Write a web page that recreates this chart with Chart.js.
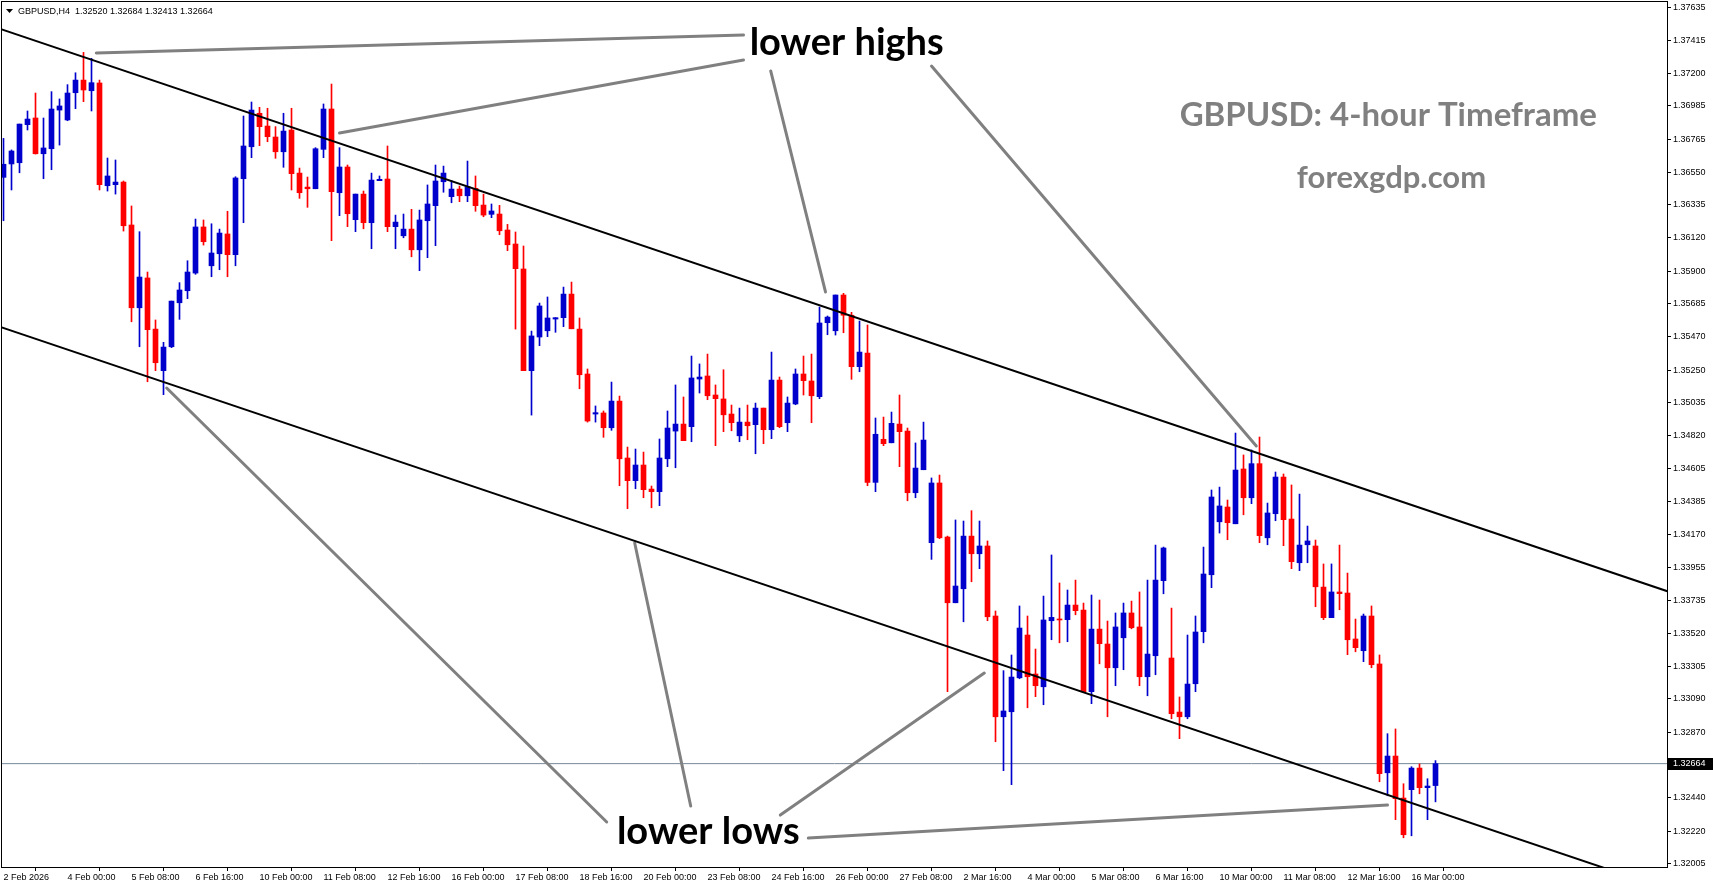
<!DOCTYPE html>
<html>
<head>
<meta charset="utf-8">
<script src="https://cdn.jsdelivr.net/npm/chart.js@4.4.1/dist/chart.umd.min.js"></script>
<style>
html, body { margin: 0; padding: 0; background: #fff; }
</style>
</head>
<body>
<canvas id="myChart" width="1713" height="888"></canvas>
<script>
// GBPUSD H4 candles, 2 Feb 2026 16:00 .. 16 Mar 2026 12:00 (one entry per bar)
var symbol = 'GBPUSD';
var period = 'H4';

var opens = [
    1.36516, 1.36604, 1.36612, 1.36862, 1.36906, 1.36671, 1.36704, 1.36958, 1.36893, 1.37072,
    1.37155, 1.37085, 1.37136, 1.36461, 1.36468, 1.36485, 1.36203, 1.35659, 1.35855, 1.35519,
    1.35246, 1.35403, 1.35692, 1.35771, 1.35887, 1.36190, 1.35935, 1.36014, 1.36144, 1.36008,
    1.36507, 1.36717, 1.36937, 1.36853, 1.36781, 1.36684, 1.36827, 1.36544, 1.36452, 1.36441,
    1.36700, 1.36965, 1.36415, 1.36584, 1.36238, 1.36406, 1.36218, 1.36494, 1.36505, 1.36192,
    1.36132, 1.36176, 1.36040, 1.36231, 1.36330, 1.36487, 1.36389, 1.36439, 1.36395, 1.36444,
    1.36334, 1.36273, 1.36275, 1.36170, 1.36078, 1.35914, 1.35246, 1.35467, 1.35508, 1.35585,
    1.35594, 1.35749, 1.35519, 1.35224, 1.34961, 1.34968, 1.34871, 1.35046, 1.34672, 1.34523,
    1.34626, 1.34468, 1.34451, 1.34667, 1.34849, 1.34895, 1.34878, 1.35191, 1.35211, 1.35086,
    1.35060, 1.34961, 1.34818, 1.34908, 1.34891, 1.35000, 1.34858, 1.35184, 1.34904, 1.35027,
    1.35224, 1.35178, 1.35075, 1.35561, 1.35508, 1.35743, 1.35610, 1.35272, 1.35362, 1.34512,
    1.34795, 1.34772, 1.34895, 1.34849, 1.34444, 1.34595, 1.34116, 1.34508, 1.34153, 1.33721,
    1.33813, 1.34159, 1.34043, 1.34094, 1.33634, 1.32972, 1.33005, 1.33228, 1.33509, 1.33253,
    1.33169, 1.33603, 1.33614, 1.33610, 1.33706, 1.33673, 1.33137, 1.33548, 1.33450, 1.33294,
    1.33491, 1.33654, 1.33562, 1.33235, 1.33373, 1.33866, 1.33358, 1.33003, 1.32972, 1.33189,
    1.33531, 1.33905, 1.34253, 1.34350, 1.34240, 1.34600, 1.34411, 1.34635, 1.34148, 1.34306,
    1.34547, 1.34271, 1.33984, 1.34102, 1.34094, 1.33824, 1.33623, 1.33792, 1.33785, 1.33483,
    1.33406, 1.33634, 1.33319, 1.32604, 1.32714, 1.32438, 1.32493, 1.32635, 1.32506, 1.32520
];
var highs = [
    1.36772, 1.36696, 1.36866, 1.36952, 1.37070, 1.36906, 1.37079, 1.37031, 1.37125, 1.37203,
    1.37337, 1.37298, 1.37155, 1.36643, 1.36630, 1.36492, 1.36328, 1.36159, 1.35894, 1.35579,
    1.35432, 1.35703, 1.35824, 1.35968, 1.36242, 1.36236, 1.36211, 1.36176, 1.36293, 1.36520,
    1.36919, 1.37011, 1.36976, 1.36970, 1.36849, 1.36937, 1.36970, 1.36577, 1.36518, 1.36711,
    1.36998, 1.37129, 1.36711, 1.36597, 1.36406, 1.36426, 1.36544, 1.36525, 1.36722, 1.36268,
    1.36275, 1.36306, 1.36301, 1.36466, 1.36597, 1.36590, 1.36494, 1.36459, 1.36623, 1.36525,
    1.36406, 1.36341, 1.36332, 1.36207, 1.36157, 1.36065, 1.35506, 1.35690, 1.35730, 1.35594,
    1.35795, 1.35828, 1.35592, 1.35257, 1.35014, 1.34981, 1.35171, 1.35079, 1.34744, 1.34731,
    1.34711, 1.34488, 1.34797, 1.34981, 1.35152, 1.35073, 1.35342, 1.35290, 1.35355, 1.35152,
    1.35252, 1.35020, 1.35000, 1.35020, 1.35033, 1.35000, 1.35368, 1.35204, 1.35073, 1.35257,
    1.35342, 1.35355, 1.35664, 1.35605, 1.35743, 1.35754, 1.35629, 1.35572, 1.35546, 1.34935,
    1.34941, 1.34974, 1.35086, 1.34869, 1.34771, 1.34908, 1.34541, 1.34560, 1.34159, 1.34265,
    1.34258, 1.34326, 1.34258, 1.34127, 1.33667, 1.33275, 1.33378, 1.33700, 1.33634, 1.33417,
    1.33765, 1.34035, 1.33851, 1.33805, 1.33870, 1.33719, 1.33772, 1.33739, 1.33601, 1.33654,
    1.33719, 1.33732, 1.33792, 1.33870, 1.34100, 1.34087, 1.33686, 1.33102, 1.33509, 1.33634,
    1.34087, 1.34462, 1.34481, 1.34396, 1.34836, 1.34692, 1.34725, 1.34810, 1.34376, 1.34580,
    1.34567, 1.34495, 1.34435, 1.34225, 1.34133, 1.33976, 1.33976, 1.34100, 1.33916, 1.33614,
    1.33647, 1.33700, 1.33378, 1.32861, 1.32892, 1.32532, 1.32644, 1.32662, 1.32565, 1.32684
];
var lows = [
    1.36231, 1.36433, 1.36546, 1.36827, 1.36669, 1.36507, 1.36566, 1.36728, 1.36888, 1.36967,
    1.37013, 1.36952, 1.36433, 1.36426, 1.36406, 1.36163, 1.35567, 1.35403, 1.35173, 1.35246,
    1.35088, 1.35397, 1.35583, 1.35719, 1.35879, 1.36071, 1.35863, 1.35909, 1.35863, 1.35935,
    1.36218, 1.36645, 1.36724, 1.36750, 1.36641, 1.36582, 1.36433, 1.36378, 1.36319, 1.36441,
    1.36645, 1.36100, 1.36264, 1.36192, 1.36159, 1.36178, 1.36047, 1.36494, 1.36159, 1.36047,
    1.36119, 1.35994, 1.35903, 1.35988, 1.36067, 1.36418, 1.36349, 1.36356, 1.36356, 1.36293,
    1.36257, 1.36251, 1.36139, 1.36034, 1.35519, 1.35246, 1.34954, 1.35410, 1.35469, 1.35498,
    1.35535, 1.35521, 1.35127, 1.34908, 1.34908, 1.34808, 1.34854, 1.34490, 1.34339, 1.34470,
    1.34411, 1.34345, 1.34359, 1.34615, 1.34608, 1.34786, 1.34779, 1.35099, 1.35055, 1.34753,
    1.34845, 1.34851, 1.34779, 1.34792, 1.34700, 1.34766, 1.34799, 1.34871, 1.34845, 1.35022,
    1.35086, 1.34904, 1.35062, 1.35482, 1.35480, 1.35495, 1.35189, 1.35239, 1.34490, 1.34451,
    1.34753, 1.34772, 1.34615, 1.34391, 1.34411, 1.34595, 1.34006, 1.34142, 1.33137, 1.33721,
    1.33596, 1.33859, 1.33945, 1.33603, 1.32808, 1.32618, 1.32526, 1.33222, 1.33031, 1.33104,
    1.33051, 1.33478, 1.33458, 1.33465, 1.33642, 1.33137, 1.33058, 1.33320, 1.32972, 1.33176,
    1.33281, 1.33550, 1.33176, 1.33110, 1.33248, 1.33780, 1.32959, 1.32828, 1.32959, 1.33137,
    1.33458, 1.33820, 1.34179, 1.34135, 1.34240, 1.34299, 1.34372, 1.34116, 1.34102, 1.34260,
    1.34096, 1.33945, 1.33932, 1.33984, 1.33695, 1.33610, 1.33623, 1.33675, 1.33380, 1.33399,
    1.33334, 1.33294, 1.32545, 1.32453, 1.32296, 1.32177, 1.32190, 1.32466, 1.32296, 1.32413
];
var closes = [
    1.36602, 1.36689, 1.36866, 1.36899, 1.36671, 1.36709, 1.36965, 1.36985, 1.37070, 1.37155,
    1.37090, 1.37138, 1.36468, 1.36525, 1.36485, 1.36198, 1.35659, 1.35861, 1.35515, 1.35298,
    1.35401, 1.35703, 1.35776, 1.35894, 1.36190, 1.36093, 1.36019, 1.36150, 1.36008, 1.36512,
    1.36722, 1.36958, 1.36849, 1.36783, 1.36684, 1.36820, 1.36540, 1.36415, 1.36441, 1.36704,
    1.36965, 1.36422, 1.36584, 1.36277, 1.36406, 1.36218, 1.36498, 1.36503, 1.36192, 1.36222,
    1.36176, 1.36040, 1.36236, 1.36341, 1.36492, 1.36544, 1.36439, 1.36395, 1.36454, 1.36330,
    1.36268, 1.36295, 1.36165, 1.36073, 1.35916, 1.35246, 1.35474, 1.35671, 1.35592, 1.35594,
    1.35749, 1.35521, 1.35219, 1.34915, 1.34970, 1.34871, 1.35046, 1.34667, 1.34523, 1.34626,
    1.34464, 1.34451, 1.34672, 1.34869, 1.34895, 1.34786, 1.35198, 1.35204, 1.35081, 1.35062,
    1.34956, 1.34904, 1.34908, 1.34884, 1.35000, 1.34858, 1.35184, 1.34878, 1.35033, 1.35224,
    1.35180, 1.35081, 1.35559, 1.35598, 1.35743, 1.35610, 1.35272, 1.35368, 1.34512, 1.34828,
    1.34766, 1.34900, 1.34845, 1.34444, 1.34606, 1.34790, 1.34508, 1.34148, 1.33721, 1.33831,
    1.34159, 1.34043, 1.34094, 1.33629, 1.32972, 1.33010, 1.33233, 1.33555, 1.33235, 1.33176,
    1.33608, 1.33625, 1.33608, 1.33706, 1.33669, 1.33137, 1.33548, 1.33452, 1.33294, 1.33562,
    1.33654, 1.33557, 1.33235, 1.33384, 1.33870, 1.34081, 1.32992, 1.32972, 1.33187, 1.33529,
    1.33910, 1.34416, 1.34357, 1.34247, 1.34593, 1.34411, 1.34635, 1.34162, 1.34311, 1.34547,
    1.34267, 1.33991, 1.34100, 1.34127, 1.33826, 1.33623, 1.33792, 1.33781, 1.33478, 1.33426,
    1.33634, 1.33314, 1.32598, 1.32714, 1.32434, 1.32197, 1.32635, 1.32506, 1.32517, 1.32664
];

// axis labels (bar index of each time label)
var xTickBars = [0, 8, 16, 24, 32, 40, 48, 56, 64, 72, 80, 88, 96, 104, 112, 120, 128, 136, 144, 152, 160, 168, 176];
var xTickLabels = ['2 Feb 2026', '4 Feb 00:00', '5 Feb 08:00', '6 Feb 16:00', '10 Feb 00:00', '11 Feb 08:00',
    '12 Feb 16:00', '16 Feb 00:00', '17 Feb 08:00', '18 Feb 16:00', '20 Feb 00:00', '23 Feb 08:00',
    '24 Feb 16:00', '26 Feb 00:00', '27 Feb 08:00', '2 Mar 16:00', '4 Mar 00:00', '5 Mar 08:00',
    '6 Mar 16:00', '10 Mar 00:00', '11 Mar 08:00', '12 Mar 16:00', '16 Mar 00:00'];
var yTickValues = [1.37635, 1.37415, 1.37200, 1.36985, 1.36765, 1.36550, 1.36335, 1.36120, 1.35900,
    1.35685, 1.35470, 1.35250, 1.35035, 1.34820, 1.34605, 1.34385, 1.34170, 1.33955, 1.33735,
    1.33520, 1.33305, 1.33090, 1.32870, 1.32440, 1.32220, 1.32005];

// drawn objects: channel lines and pointer lines (bar index, price)
var upperChannel = [{x: -1, y: 1.37502}, {x: 210, y: 1.33761}];
var lowerChannel = [{x: -1, y: 1.35544}, {x: 210, y: 1.31803}];
var pointerLines = [
    [{x: 11.6, y: 1.37333}, {x: 92.5, y: 1.37451}],
    [{x: 42.0, y: 1.36807}, {x: 92.5, y: 1.37287}],
    [{x: 95.9, y: 1.37215}, {x: 102.75, y: 1.35763}],
    [{x: 116.0, y: 1.37247}, {x: 156.6, y: 1.34751}],
    [{x: 100.6, y: 1.32175}, {x: 173.0, y: 1.32392}],
    [{x: 97.1, y: 1.32326}, {x: 122.6, y: 1.33259}],
    [{x: 20.4, y: 1.35132}, {x: 75.4, y: 1.32281}],
    [{x: 78.9, y: 1.34114}, {x: 85.9, y: 1.32386}]
];
var notes = [
    {text: 'lower highs', bar: 105.4, price: 1.37398, font: '700 38px Lato', color: '#000000'},
    {text: 'lower lows', bar: 88.1, price: 1.32215, font: '700 38px Lato', color: '#000000'},
    {text: 'GBPUSD: 4-hour Timeframe', bar: 173.1, price: 1.36926, font: '700 33px Lato', color: '#808080'},
    {text: 'forexgdp.com', bar: 173.5, price: 1.36512, font: '700 31px Lato', color: '#808080'}
];

var bullColor = '#0000cd';
var bearColor = '#ff0000';
var candleColors = opens.map(function (o, i) { return closes[i] >= o ? bullColor : bearColor; });
var wickData = highs.map(function (h, i) { return {x: i, y: [lows[i], h]}; });
var bodyData = opens.map(function (o, i) { return {x: i, y: [o, closes[i]]}; });
var last = closes.length - 1;
var lastClose = closes[last];
var priceLine = [{x: -1, y: lastClose}, {x: 210, y: lastClose}];

var chartChrome = {
    id: 'chartChrome',
    beforeDraw: function (chart) {
        var c = chart.ctx;
        c.save();
        c.fillStyle = '#ffffff';
        c.fillRect(0, 0, chart.width, chart.height);
        c.restore();
    },
    afterDatasetsDraw: function (chart) {
        var c = chart.ctx, xs = chart.scales.x, ys = chart.scales.y;
        c.save();
        c.textAlign = 'center';
        c.textBaseline = 'middle';
        notes.forEach(function (n) {
            c.font = n.font;
            c.fillStyle = n.color;
            c.fillText(n.text, xs.getPixelForValue(n.bar), ys.getPixelForValue(n.price));
        });
        c.restore();
    },
    afterDraw: function (chart) {
        var c = chart.ctx, a = chart.chartArea, ys = chart.scales.y;
        c.save();
        c.strokeStyle = '#000000';
        c.lineWidth = 1;
        c.strokeRect(a.left - 0.5, a.top - 0.5, a.right - a.left + 1, a.bottom - a.top + 1);

        // header line, MT4 style
        c.fillStyle = '#000000';
        c.beginPath();
        c.moveTo(6, 9); c.lineTo(13, 9); c.lineTo(9.5, 13); c.closePath();
        c.fill();
        c.font = '9px "Liberation Sans"';
        c.textAlign = 'left';
        c.textBaseline = 'alphabetic';
        var ohlc = [opens[last], highs[last], lows[last], closes[last]].map(function (v) { return v.toFixed(5); });
        c.fillText(symbol + ',' + period + '  ' + ohlc.join(' '), 18, 14);

        // current price tag
        var py = Math.round(ys.getPixelForValue(lastClose));
        c.fillRect(a.right + 1, py - 6, 45, 12);
        c.fillStyle = '#ffffff';
        c.textBaseline = 'middle';
        c.fillText(lastClose.toFixed(5), a.right + 6, py);
        c.restore();
    }
};

var datasets = [
    {type: 'line', data: upperChannel, borderColor: '#000000', borderWidth: 2, pointRadius: 0, order: 0},
    {type: 'line', data: lowerChannel, borderColor: '#000000', borderWidth: 2, pointRadius: 0, order: 0},
    {type: 'line', data: priceLine, borderColor: '#778899', borderWidth: 1, pointRadius: 0, order: 9}
];
pointerLines.forEach(function (seg) {
    datasets.push({type: 'line', data: seg, borderColor: '#808080', borderWidth: 3,
        borderCapStyle: 'round', pointRadius: 0, order: 0});
});
datasets.push({label: 'wicks', data: wickData, backgroundColor: candleColors,
    barThickness: 1, grouped: false, order: 3});
datasets.push({label: 'bodies', data: bodyData, backgroundColor: candleColors,
    barThickness: 5, minBarLength: 1, grouped: false, order: 2});

var ctx = document.getElementById('myChart').getContext('2d');
var myChart = new Chart(ctx, {
    type: 'bar',
    data: {datasets: datasets},
    options: {
        responsive: false,
        animation: false,
        devicePixelRatio: 1,
        layout: {padding: {left: 2, top: 2, right: 0, bottom: 0}},
        plugins: {
            legend: {display: false},
            tooltip: {enabled: false}
        },
        scales: {
            x: {
                type: 'linear',
                offset: false,
                min: -0.1875,
                max: 207.9375,
                afterBuildTicks: function (scale) {
                    scale.ticks = xTickBars.map(function (v) { return {value: v}; });
                },
                afterFit: function (scale) {
                    scale.height = 21;
                    scale.paddingLeft = 0;
                    scale.paddingRight = 0;
                },
                ticks: {
                    autoSkip: false,
                    maxRotation: 0,
                    align: 'start',
                    padding: 1,
                    color: '#000000',
                    font: {family: 'Liberation Sans', size: 9},
                    callback: function (value) {
                        var k = xTickBars.indexOf(value);
                        return k >= 0 ? xTickLabels[k] : '';
                    }
                },
                grid: {drawOnChartArea: false, drawTicks: true, tickLength: 4, color: '#000000'},
                border: {display: true, color: '#000000'}
            },
            y: {
                type: 'linear',
                position: 'right',
                min: 1.31985,
                max: 1.37668,
                afterBuildTicks: function (scale) {
                    scale.ticks = yTickValues.map(function (v) { return {value: v}; });
                },
                afterFit: function (scale) {
                    scale.width = 46;
                    scale.paddingTop = 0;
                    scale.paddingBottom = 0;
                },
                ticks: {
                    autoSkip: false,
                    padding: 2,
                    color: '#000000',
                    font: {family: 'Liberation Sans', size: 9},
                    callback: function (value) { return value.toFixed(5); }
                },
                grid: {drawOnChartArea: false, drawTicks: true, tickLength: 4, color: '#000000'},
                border: {display: true, color: '#000000'}
            }
        }
    },
    plugins: [chartChrome]
});
</script>
</body>
</html>
